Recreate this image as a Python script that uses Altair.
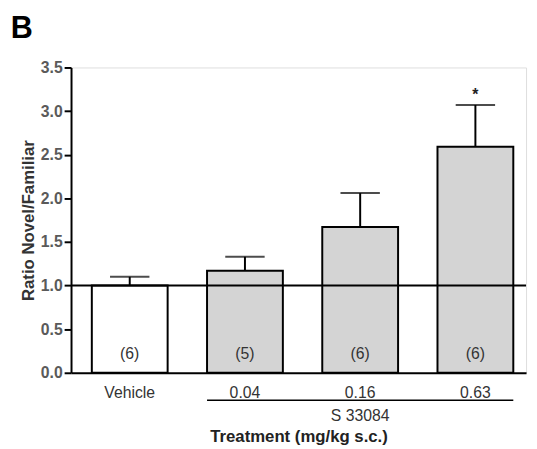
import altair as alt
import pandas as pd

categories = ["Vehicle", "0.04", "0.16", "0.63"]
means = [1.0, 1.17, 1.67, 2.59]
err_top = [1.10, 1.33, 2.06, 3.07]
n_labels = ["(6)", "(5)", "(6)", "(6)"]
sig = ["", "", "", "*"]
groups = ["vehicle", "drug", "drug", "drug"]
bracket_start = ["0.04"]
bracket_end = ["0.63"]
bracket_label = ["S 33084"]
bracket_mid = ["0.16"]
ref_value = [1.0]

FONT = "Liberation Sans"

df = pd.DataFrame(dict(cat=categories, mean=means, top=err_top,
                       n=n_labels, sig=sig, group=groups))

xscale = alt.Scale(domain=categories, paddingInner=0.342, paddingOuter=0.1455, align=0.62)
yscale = alt.Scale(domain=[0, 3.5])

x = alt.X("cat:N", scale=xscale,
          axis=alt.Axis(title="Treatment (mg/kg s.c.)", labelAngle=0, ticks=False,
                        labelPadding=12, titlePadding=29, labelFontSize=16,
                        labelColor="#333", titleFontSize=17, titleFontWeight="bold",
                        titleColor="#222", domainColor="black", domainWidth=2,
                        labelFont=FONT, titleFont=FONT))

base = alt.Chart(df).encode(x=x)

bars = base.mark_bar(stroke="black", strokeWidth=2).encode(
    y=alt.Y("mean:Q", scale=yscale,
            axis=alt.Axis(title="Ratio Novel/Familiar", values=[0, 0.5, 1, 1.5, 2, 2.5, 3, 3.5],
                          format=".1f", grid=False, tickSize=7, tickWidth=2, tickColor="black",
                          domainColor="black", domainWidth=2, labelPadding=2,
                          labelFontSize=16, labelFontWeight="bold", labelColor="#5a5a5a",
                          titleFontSize=17, titleFontWeight="bold", titleColor="#333",
                          titlePadding=3, labelFont=FONT, titleFont=FONT)),
    color=alt.Color("group:N", scale=alt.Scale(domain=["vehicle", "drug"],
                                               range=["white", "#d4d4d4"]), legend=None),
)

err = base.mark_rule(color="black", strokeWidth=2).encode(y="mean:Q", y2="top:Q")
caps = base.mark_tick(color="black", size=40, thickness=2, orient="horizontal").encode(y="top:Q")

ref = alt.Chart(pd.DataFrame({"ref": ref_value})).mark_rule(color="black", strokeWidth=2).encode(
    y=alt.Y("ref:Q", scale=yscale))

ntext = base.mark_text(fontSize=16, color="#333", dy=-19, font=FONT).encode(
    y=alt.datum(0), text="n:N")

stars = base.mark_text(fontSize=16, fontWeight="bold", color="#222", dy=-10, font=FONT).encode(
    y="top:Q", text="sig:N")

bdf = pd.DataFrame({"start": bracket_start, "end": bracket_end,
                    "mid": bracket_mid, "label": bracket_label})
bracket = alt.Chart(bdf).mark_rule(color="black", strokeWidth=1.5).encode(
    x=alt.X("start:N", scale=xscale, bandPosition=0),
    x2=alt.X2("end:N", bandPosition=1),
    y=alt.value(338))
blabel = alt.Chart(bdf).mark_text(fontSize=16, color="#333", font=FONT).encode(
    x=alt.X("mid:N", scale=xscale), y=alt.value(354), text="label:N")

letter = alt.Chart(pd.DataFrame({"t": ["B"]})).mark_text(
    fontSize=31, fontWeight="bold", color="black", font=FONT).encode(
    x=alt.value(-50), y=alt.value(-39), text="t:N")

chart = alt.layer(bars, ref, err, caps, ntext, stars, bracket, blabel, letter).properties(
    width=462, height=310,
    autosize=alt.AutoSizeParams(type="none"),
    padding={"left": 64, "top": 57, "right": 3, "bottom": 74},
).configure_view(stroke="transparent").configure(background="white")

chart.save("out.html", embed_options={"renderer": "svg", "actions": False})
